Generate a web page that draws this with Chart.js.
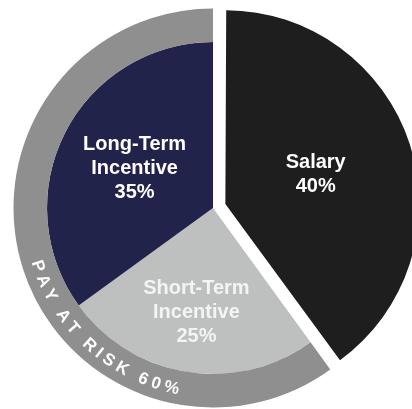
<!DOCTYPE html>
<html>
<head>
<meta charset="utf-8">
<script src="https://cdn.jsdelivr.net/npm/chart.js@4.4.0/dist/chart.umd.min.js"></script>
<style>
  html, body { margin: 0; padding: 0; background: #fff; overflow: hidden; width: 412px; height: 409px; }
  #chart { position: absolute; left: 0; top: 0; }
</style>
</head>
<body>
<canvas id="chart" width="426" height="416"></canvas>
<script>
// pay mix (inner pie)
const categories = ['Salary', 'Short-Term Incentive', 'Long-Term Incentive'];
const payMix = [40, 25, 35];
// outer ring
const ringCategories = ['Salary', 'PAY AT RISK'];
const ringValues = [40, 60];

const SALARY = '#1e1e1e';
const STI = '#bebfbf';
const LTI = '#22234a';
const RING = '#8f8f8f';
const NONE = 'rgba(0,0,0,0)';

// radii in px: grey ring outside edge, pie edge, salary edge (before chart.js grows the offset slice)
const ringOuter = 199.5;
const pieOuter = 166;
const salaryOuter = 188.5;
// salary lives in a hair-thin innermost ring blown up by its own radius;
// a power of two keeps the maths exact so its centre hole is really 0
const salaryScale = 8192;
const salaryWeight = salaryOuter / salaryScale;

// draws the white labels inside the pie slices
const sliceLabels = {
    id: 'sliceLabels',
    afterDatasetsDraw(chart, args, opts) {
        const ctx = chart.ctx;
        ctx.save();
        ctx.textAlign = 'center';
        ctx.textBaseline = 'middle';
        ctx.font = opts.font;
        categories.forEach((name, i) => {
            const arc = chart.getDatasetMeta(i === 0 ? 2 : 1).data[i];
            const p = arc.getProps(['x', 'y', 'startAngle', 'endAngle'], true);
            const mid = (p.startAngle + p.endAngle) / 2;
            const shift = (arc.options.offset || 0) / 4;
            const r = opts.radius[i] + shift;
            const x = p.x + Math.cos(mid) * r;
            const y = p.y + Math.sin(mid) * r;
            const lines = name.split(' ').concat([payMix[i] + '%']);
            ctx.fillStyle = opts.colors[i];
            lines.forEach((line, k) => {
                ctx.fillText(line, x, y + (k - (lines.length - 1) / 2) * opts.lineHeight);
            });
        });
        ctx.restore();
    }
};

// writes "PAY AT RISK 60%" along the grey ring
const ringText = {
    id: 'ringText',
    afterDatasetsDraw(chart, args, opts) {
        const ctx = chart.ctx;
        const arc = chart.getDatasetMeta(0).data[1];
        const p = arc.getProps(['x', 'y', 'innerRadius', 'outerRadius'], true);
        const r = (p.innerRadius + p.outerRadius) / 2 + opts.shiftOut;
        const text = ringCategories[1] + ' ' + ringValues[1] + '%';
        ctx.save();
        ctx.font = opts.font;
        ctx.fillStyle = opts.color;
        ctx.textAlign = 'center';
        ctx.textBaseline = 'middle';
        const chars = Array.from(text);
        const widths = chars.map(c => ctx.measureText(c).width);
        const total = widths.reduce((a, b) => a + b, 0) + opts.spacing * (chars.length - 1);
        let a = opts.angle + total / (2 * r);
        chars.forEach((c, k) => {
            const ang = a - widths[k] / (2 * r);
            ctx.save();
            ctx.translate(p.x + r * Math.cos(ang), p.y + r * Math.sin(ang));
            ctx.rotate(ang - Math.PI / 2);
            ctx.fillText(c, 0, 0);
            ctx.restore();
            a -= (widths[k] + opts.spacing) / r;
        });
        ctx.restore();
    }
};

var ctx = document.getElementById('chart').getContext('2d');
var myChart = new Chart(ctx, {
    type: 'pie',
    data: {
        labels: categories,
        datasets: [{
            label: 'Pay at risk',
            data: ringValues,
            backgroundColor: [NONE, RING],
            borderWidth: 0,
            weight: ringOuter - pieOuter,
        }, {
            label: 'Incentives',
            data: payMix,
            backgroundColor: [NONE, STI, LTI],
            borderWidth: 0,
            weight: pieOuter - salaryWeight,
        }, {
            label: 'Salary',
            data: payMix,
            backgroundColor: [SALARY, NONE, NONE],
            borderWidth: 0,
            offset: [52, 0, 0],
            weight: salaryWeight,
            radius: salaryScale * ringOuter,
        }]
    },
    options: {
        responsive: false,
        animation: false,
        events: [],
        radius: ringOuter,
        plugins: {
            legend: { display: false },
            tooltip: { enabled: false },
            sliceLabels: {
                font: 'bold 20px "Liberation Sans", Arial, sans-serif',
                lineHeight: 24,
                radius: [95, 106, 88],
                colors: ['#ffffff', '#f4f4f4', '#ffffff']
            },
            ringText: {
                font: 'bold 17px "Liberation Sans", Arial, sans-serif',
                color: '#ffffff',
                spacing: 4,
                angle: 132 * Math.PI / 180,
                shiftOut: 2
            }
        }
    },
    plugins: [sliceLabels, ringText]
});
</script>
</body>
</html>
